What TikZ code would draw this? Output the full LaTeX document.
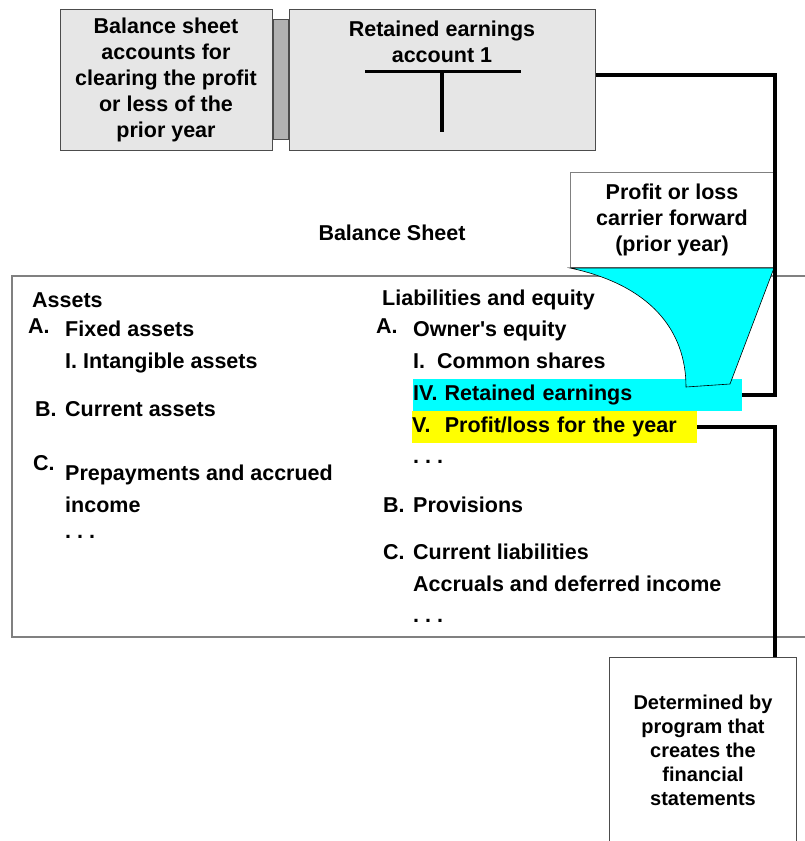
\documentclass[tikz,border=0pt]{standalone}
\usepackage{fontspec}
\setmainfont{Liberation Sans}
\usetikzlibrary{positioning,calc}

\definecolor{boxgray}{HTML}{E6E6E6}
\definecolor{bargray}{HTML}{B2B2B2}
\definecolor{edgegray}{HTML}{808080}
\definecolor{hlcyan}{HTML}{00FFFF}
\definecolor{hlyellow}{HTML}{FFFF00}

\begin{document}
\frenchspacing
\begin{tikzpicture}[
    x=1pt, y=-1pt,
    every node/.style={font=\fontsize{21.5}{26}\selectfont\bfseries, inner sep=0pt},
    acct/.style={draw=black!70, fill=boxgray, line width=1pt, align=center,
                 minimum height=141pt},
    bar/.style={draw=black!70, fill=bargray, line width=1pt,
                minimum width=15pt, minimum height=120pt},
    note/.style={draw=edgegray, fill=white, line width=1pt, align=center},
    item/.style={anchor=base west},
    hl/.style={anchor=north west, minimum height=32pt, text width=#1,
               text height=15.5pt, text depth=4.5pt, align=left},
    conn/.style={line width=4pt, line join=miter}
]
    \useasboundingbox (0,0) rectangle (804,841);

    % Balance sheet frame (runs off the right edge)
    \node[draw=edgegray, line width=1.5pt, minimum width=830pt,
          minimum height=361pt, anchor=north west] (bsheet) at (11,275) {};
    \node (bstitle) at (392,233) {Balance Sheet};

    % Accounts at the top
    \node[acct, minimum width=212pt] (clearbox) at (166,79.5)
        {Balance sheet\\accounts for\\clearing the profit\\or less of the\\prior year};
    \node[bar, right=0pt of clearbox] (link) {};
    \node[acct, minimum width=306pt, right=0pt of link] (retbox) {};
    \node[below=12pt of retbox.north, align=center] (retlbl)
        {Retained earnings\\account 1};
    \draw[line width=3.2pt] ($(retbox.center)+(-77,-8)$) -- ++(156,0);
    \draw[line width=3.2pt] ($(retbox.center)+(0,-8)$) -- ++(0,60);

    % Assets side
    \node[item] (assets) at (32,307) {Assets};
    \node[item] (lA) at (28,333) {A.};
    \node[item] (fixed) at (65,336.5) {Fixed assets};
    \node[item] (intang) at (65,368.5) {I. Intangible assets};
    \node[item] (lB) at (35,416.5) {B.};
    \node[item] (current) at (65,416.5) {Current assets};
    \node[item] (lC) at (33,470) {C.};
    \node[item] (prepay) at (65,480.5) {Prepayments and accrued};
    \node[item] (income) at (65,512.5) {income};
    \node[item] (ldots) at (65,538) {. . .};

    % Liabilities side
    \node[item] (liab) at (382,305.5) {Liabilities and equity};
    \node[item] (rA) at (376,333) {A.};
    \node[item] (owner) at (413,336.5) {Owner\textquotesingle s equity};
    \node[item] (common) at (413,368.5) {I.\ \ Common shares};
    \node[hl=329pt, fill=hlcyan] (rehl) at (413,379) {IV. Retained earnings};
    \node[hl=285pt, fill=hlyellow] (pyhl) at (412,411) {V.\ \ Profit/loss for the year};
    \node[item] (rdots1) at (413,463) {. . .};
    \node[item] (rB) at (383,512.5) {B.};
    \node[item] (prov) at (413,512.5) {Provisions};
    \node[item] (rC) at (383,559.5) {C.};
    \node[item] (curliab) at (413,559.5) {Current liabilities};
    \node[item] (accr) at (413,591.5) {Accruals and deferred income};
    \node[item] (rdots2) at (413,622) {. . .};

    % Carry forward funnel
    \node[note, minimum width=203pt, minimum height=95pt, anchor=north west]
        (profbox) at (570,172) {Profit or loss\\carrier forward\\(prior year)};
    \draw[fill=hlcyan, line width=0.6pt] (profbox.south west)
        .. controls (650,285) and (686,330) .. (686,387)
        -- (730,384) -- (profbox.south east) -- cycle;

    % Program box
    \node[note, draw=black!70, minimum width=187pt, minimum height=186pt,
          anchor=north west, font=\fontsize{20}{24}\selectfont\bfseries]
        (detbox) at (609,657)
        {Determined by\\program that\\creates the\\financial\\statements};

    % Connectors
    \coordinate (rcol) at (775,0);
    \draw[conn] ([yshift=5pt]retbox.east) -| (rcol |- rehl.east) -- (rehl.east);
    \draw[conn] (pyhl.east) -| (detbox.north -| rcol);
\end{tikzpicture}
\end{document}
